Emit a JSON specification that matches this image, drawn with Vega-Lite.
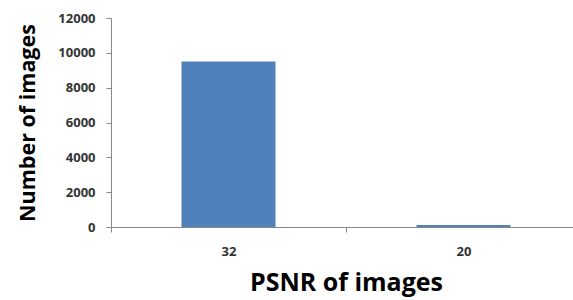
{
  "$schema": "https://vega.github.io/schema/vega-lite/v6.json",
  "autosize": "none",
  "padding": {"left": 111, "top": 18, "right": 0, "bottom": 73},
  "width": 470,
  "height": 209,
  "background": "white",
  "data": {"values": [
    {"psnr": "32", "count": 9500},
    {"psnr": "20", "count": 120}
  ]},
  "mark": {"type": "bar", "color": "#4F81BD", "width": {"band": 0.4}},
  "encoding": {
    "x": {
      "field": "psnr", "type": "nominal", "sort": null,
      "scale": {"paddingInner": 0, "paddingOuter": 0},
      "axis": {
        "title": "PSNR of images",
        "titleFont": "Open Sans", "titleFontSize": 25, "titleFontWeight": "bold", "titleColor": "#000000",
        "titlePadding": 12,
        "labelAngle": 0, "labelFont": "Open Sans", "labelFontSize": 13, "labelFontWeight": "bold", "labelColor": "#333333",
        "labelPadding": 13,
        "tickBand": "extent", "tickSize": 5, "tickColor": "#888888",
        "domainColor": "#888888", "grid": false
      }
    },
    "y": {
      "field": "count", "type": "quantitative",
      "scale": {"domain": [0, 12000]},
      "axis": {
        "title": "Number of images",
        "values": [0, 2000, 4000, 6000, 8000, 10000, 12000],
        "format": "d",
        "titleFont": "Open Sans", "titleFontSize": 21.5, "titleFontWeight": "bold", "titleColor": "#000000",
        "titlePadding": 18,
        "labelFont": "Open Sans", "labelFontSize": 13, "labelFontWeight": "bold", "labelColor": "#333333",
        "labelPadding": 11,
        "tickSize": 5, "tickColor": "#888888",
        "domainColor": "#888888", "grid": false
      }
    }
  },
  "config": {"view": {"stroke": null}}
}
